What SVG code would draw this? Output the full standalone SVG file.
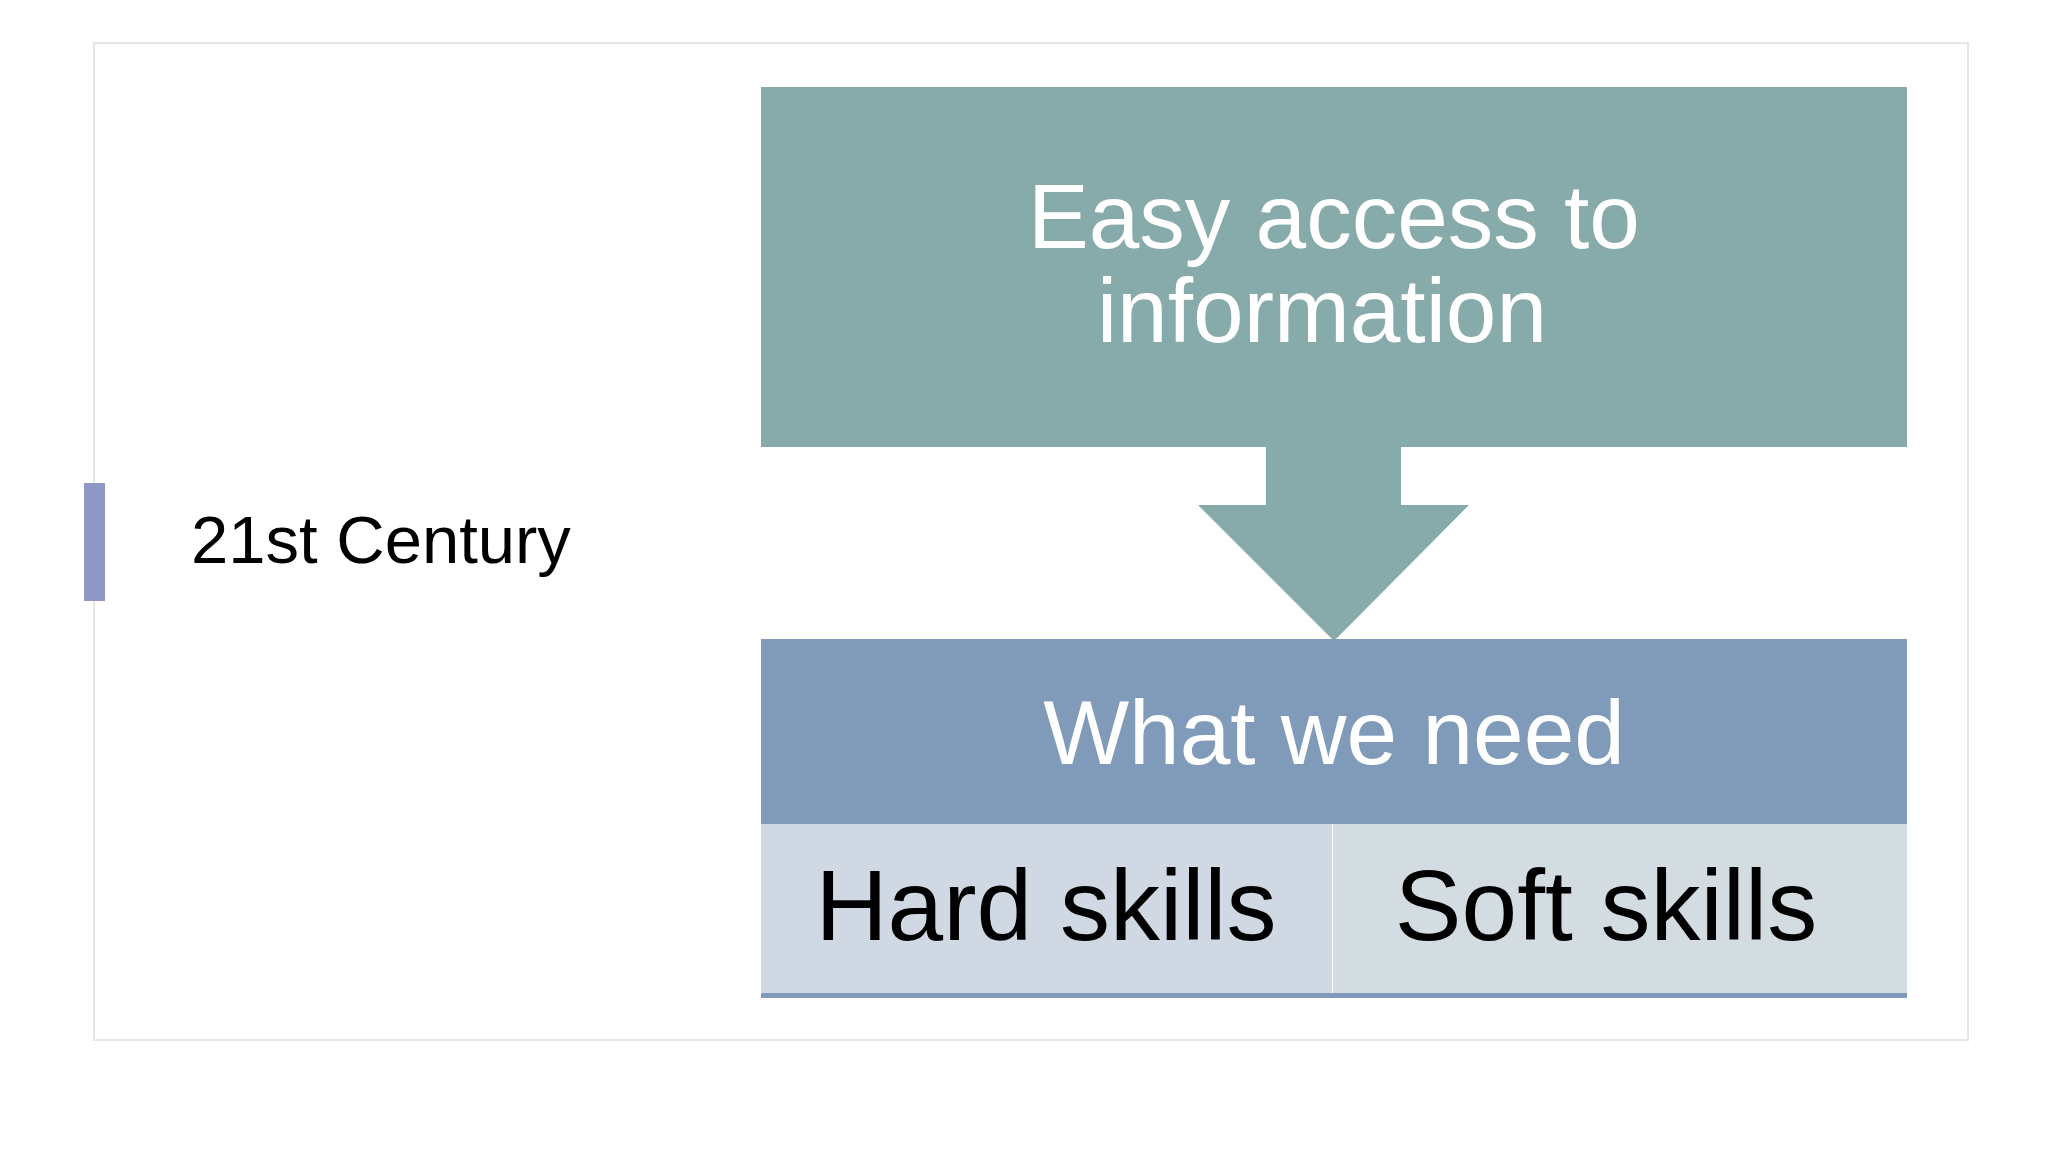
<svg xmlns="http://www.w3.org/2000/svg" width="2048" height="1152" viewBox="0 0 2048 1152">
<style>
text{font-family:"Liberation Sans",Arial,sans-serif}
.w{fill:#fff;font-size:91px;text-anchor:middle}
.k{fill:#000;font-size:100px;text-anchor:middle}
</style>
<rect width="2048" height="1152" fill="#fff"/>
<rect x="94" y="43" width="1874" height="997" fill="#fff" stroke="#e6e6e6" stroke-width="2"/>
<g id="bar"><rect x="84" y="483" width="21" height="118" fill="#9099c6"/></g>
<g id="title"><text x="191" y="563" font-size="67" fill="#000">21st Century</text></g>
<g id="top"><rect x="761" y="87" width="1146" height="360" fill="#87abaa"/>
<text class="w" x="1334" y="248">Easy access to</text><text class="w" x="1322" y="342">information</text></g>
<g id="connectors"><polygon points="1266,447 1401,447 1401,505 1469,505 1334,641 1198,505 1266,505" fill="#87abaa"/></g>
<g id="need"><rect x="761" y="639" width="1146" height="185" fill="#7f9bb9"/>
<text class="w" x="1334" y="764">What we need</text></g>
<g id="hard"><rect x="761" y="824" width="571" height="169" fill="#cfd8e3"/><text class="k" x="1046" y="940">Hard skills</text></g>
<g id="soft"><rect x="1333" y="824" width="574" height="169" fill="#d3dce1"/><text class="k" x="1606" y="940">Soft skills</text></g>
<rect x="761" y="993" width="1146" height="5" fill="#7f9bb9"/>
</svg>
